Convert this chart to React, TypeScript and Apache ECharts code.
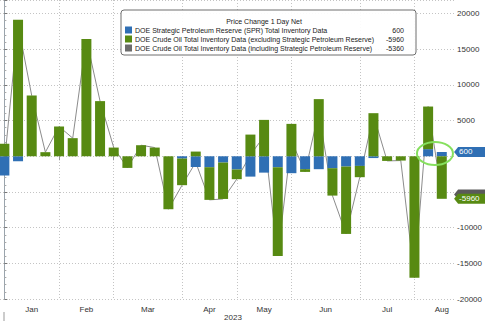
import React, { useEffect, useRef } from "react";
import * as echarts from "echarts";

// Weekly DOE report dates (2023)
const WEEKS = [
  "Jan 4", "Jan 11", "Jan 18", "Jan 25", "Feb 1", "Feb 8", "Feb 15", "Feb 22",
  "Mar 1", "Mar 8", "Mar 15", "Mar 22", "Mar 29", "Apr 5", "Apr 12", "Apr 19",
  "Apr 26", "May 3", "May 10", "May 17", "May 24", "May 31", "Jun 7", "Jun 14",
  "Jun 22", "Jun 28", "Jul 6", "Jul 12", "Jul 19", "Jul 26", "Aug 2", "Aug 9", "Aug 16",
];

// SPR change (thousand barrels)
const SPR = [
  -2700, -690, 0, 0, 0, 0, 0, 0, 0, 0, 0, 0, 0, -320, -1500, -1530,
  -880, -1850, -2850, -2290, -1530, -2370, -1810, -1810, -1670, -1440, -1350, -250,
  0, 0, 0, 1000, 600,
];

// Crude excluding SPR
const CRUDE = [
  1740, 19130, 8510, 575, 4170, 2540, 16420, 7730, 1220, -1630, 1550, 1220, -7420, -3730, 660, -4580,
  -5100, -1360, 3040, 5100, -12440, 4540, -380, 8010, -3840, -9440, -1580, 6040,
  -650, -600, -17010, 5970, -5960,
];

// Crude including SPR
const TOTAL = [
  -960, 18440, 8510, 575, 4170, 2540, 16420, 7730, 1220, -1630, 1550, 1220, -7420, -4050, -840, -6110,
  -5980, -3210, 190, 2810, -13970, 2170, -2190, 6200, -5510, -10880, -2930, 5790,
  -650, -600, -17010, 6970, -5360,
];

const MONTHS = ["Jan", "Feb", "Mar", "Apr", "May", "Jun", "Jul", "Aug"];
const MONTH_START = [0, 4, 8, 13, 17, 21, 26, 30];
const MONTH_LABEL_POS = [2, 6, 10.5, 15, 19, 23.5, 28, 32];

const LEGEND_TITLE = "Price Change 1 Day Net";
const NAMES = [
  "DOE Strategic Petroleum Reserve (SPR) Total Inventory Data",
  "DOE Crude Oil Total Inventory Data (excluding Strategic Petroleum Reserve)",
  "DOE Crude Oil Total Inventory Data (including Strategic Petroleum Reserve)",
];
const LAST = [600, -5960, -5360];

const BLUE = "#2f6fb4";
const GREEN = "#578a12";
const GREY = "#8c8c8c";
const GREY_SQ = "#6b6b6b";
const FONT = "'Liberation Sans', Arial, sans-serif";

export default function App() {
  const ref = useRef<HTMLDivElement>(null);
  useEffect(() => {
    if (!ref.current) return;
    document.documentElement.style.overflow = "hidden";
    document.body.style.margin = "0";
    document.body.style.overflow = "hidden";
    const chart = echarts.init(ref.current, undefined, { renderer: "svg", width: 485, height: 321 });
    const dotted = { color: "#c4c4c4", width: 1, type: [1, 2] as number[] };
    const option: any = {
      animation: false,
      textStyle: { fontFamily: FONT },
      grid: { left: 0, right: 22, top: 0, bottom: 22, containLabel: false },
      xAxis: {
        type: "value",
        min: -0.32,
        max: 32.9,
        axisLine: { show: false },
        axisTick: { show: true, customValues: MONTH_START, length: 4, lineStyle: { color: "#999" } },
        splitLine: { show: true, lineStyle: dotted },
        axisLabel: {
          customValues: MONTH_LABEL_POS,
          formatter: (v: number) => MONTHS[MONTH_LABEL_POS.indexOf(v)] ?? "",
          fontSize: 8,
          color: "#333",
          margin: 6,
          fontFamily: FONT,
        },
      },
      yAxis: {
        type: "value",
        position: "right",
        min: -20000,
        max: 21900,
        interval: 5000,
        axisLine: { show: true, lineStyle: { color: "#9aa4ad" } },
        axisTick: { show: true, length: 3, lineStyle: { color: "#777" } },
        minorTick: { show: true, splitNumber: 5, length: 2, lineStyle: { color: "#aaa" } },
        splitLine: { show: true, lineStyle: dotted },
        axisLabel: {
          fontSize: 8,
          color: "#333",
          margin: 3,
          showMaxLabel: false,
          fontFamily: FONT,
          formatter: (v: number) => (v === -5000 || v === 0 ? "" : String(v)),
        },
      },
      series: [
        {
          name: NAMES[2],
          type: "line",
          data: TOTAL.map((v, i) => [v, i]),
          encode: { x: 1, y: 0 },
          showSymbol: false,
          symbol: "none",
          lineStyle: { color: GREY, width: 1 },
          z: 1,
        },
        {
          name: NAMES[0],
          type: "bar",
          stack: "inv",
          barWidth: 10,
          data: SPR.map((v, i) => [v, i]),
          encode: { x: 1, y: 0 },
          itemStyle: { color: BLUE },
          z: 2,
        },
        {
          name: NAMES[1],
          type: "bar",
          stack: "inv",
          barWidth: 10,
          data: CRUDE.map((v, i) => [v, i]),
          encode: { x: 1, y: 0 },
          itemStyle: { color: GREEN },
          z: 2,
        },
      ],
    };
    chart.setOption(option);

    const px = (x: number, y: number) => chart.convertToPixel({ gridIndex: 0 }, [x, y]) as number[];
    const axisX = px(32.9, 0)[0];
    const tag = (value: number, fill: string, z: number, showText: boolean) => {
      const cy = px(0, value)[1];
      const h = 5;
      const children: any[] = [
        {
          type: "polygon",
          shape: { points: [[axisX, cy], [axisX + 4, cy - h], [485, cy - h], [485, cy + h], [axisX + 4, cy + h]] },
          style: { fill },
        },
      ];
      if (showText)
        children.push({
          type: "text",
          x: axisX + 5,
          y: cy,
          style: { text: String(value), fill: "#fff", fontSize: 8, fontFamily: FONT, verticalAlign: "middle" },
        });
      return { type: "group", z, children };
    };
    const circleC = px(31.5, 400);

    const lx = 121, ly = 10;
    const rowsY = [30, 39, 48];
    const colors = [BLUE, GREEN, GREY_SQ];
    const SX = 0.88;
    const legendChildren: any[] = [
      {
        type: "rect",
        shape: { x: lx, y: ly, width: 295, height: 45, r: 3 },
        style: { fill: "rgba(255,255,255,0.92)", stroke: "#6f6f6f", lineWidth: 1 },
      },
      {
        type: "text",
        x: 264,
        y: 21,
        scaleX: SX,
        style: { text: LEGEND_TITLE, fill: "#222", fontSize: 8, fontFamily: FONT, align: "center", verticalAlign: "middle" },
      },
    ];
    NAMES.forEach((n, i) => {
      legendChildren.push(
        { type: "rect", shape: { x: 125, y: rowsY[i] - 3.5, width: 7, height: 7 }, style: { fill: colors[i] } },
        {
          type: "text",
          x: 135,
          y: rowsY[i],
          scaleX: SX,
          style: { text: n, fill: "#222", fontSize: 8, fontFamily: FONT, verticalAlign: "middle" },
        },
        {
          type: "text",
          x: 404,
          y: rowsY[i],
          scaleX: SX,
          style: { text: String(LAST[i]), fill: "#222", fontSize: 8, fontFamily: FONT, align: "right", verticalAlign: "middle" },
        }
      );
    });

    chart.setOption({
      graphic: [
        { type: "group", z: 100, children: legendChildren },
        {
          type: "ellipse",
          z: 90,
          shape: { cx: circleC[0], cy: circleC[1], rx: 18, ry: 11.5 },
          style: { fill: "none", stroke: "#86e05e", lineWidth: 2 },
        },
        tag(LAST[2], "#5a5a5a", 80, false),
        tag(LAST[1], GREEN, 81, true),
        tag(LAST[0], BLUE, 82, true),
        {
          type: "text",
          z: 50,
          x: 233,
          y: 317,
          style: { text: "2023", fill: "#333", fontSize: 8, fontFamily: FONT, align: "center", verticalAlign: "middle" },
        },
        {
          type: "line",
          z: 50,
          shape: { x1: 4, y1: 312, x2: 4, y2: 321 },
          style: { stroke: "#999", lineWidth: 1 },
        },
      ],
    });

    return () => chart.dispose();
  }, []);
  return <div ref={ref} style={{ position: "fixed", left: 0, top: 0, width: 485, height: 321, background: "#fff" }} />;
}
